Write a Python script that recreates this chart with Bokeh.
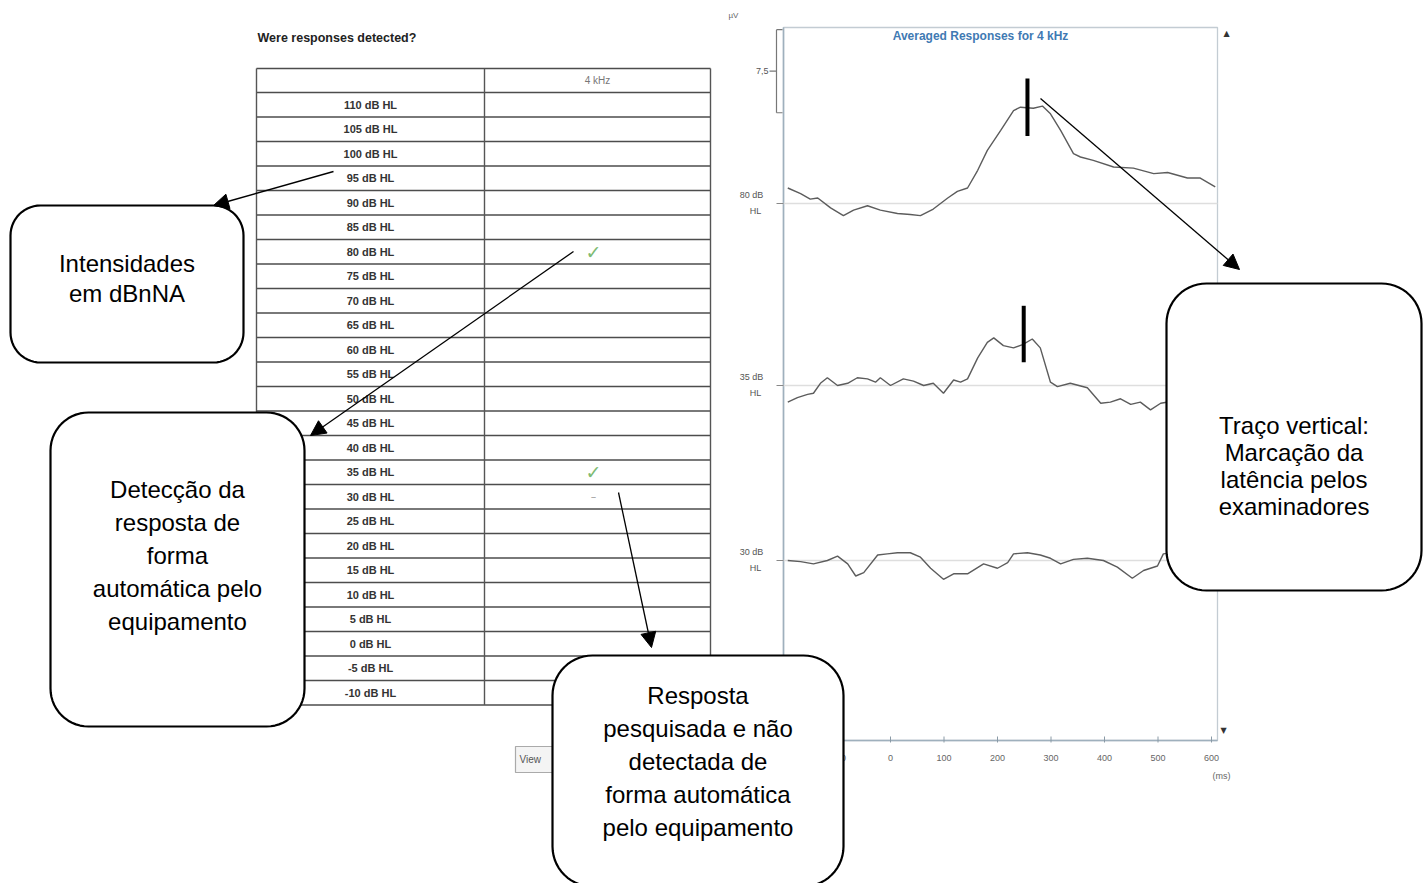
import math
from bokeh.plotting import figure
from bokeh.models import Range1d, Arrow, NormalHead
from bokeh.core.properties import value
from bokeh.embed import file_html
from bokeh.resources import INLINE

W, H = 1427, 883

# ---------------- data ----------------
# "Were responses detected?" table, 4 kHz column
levels_db = [110, 105, 100, 95, 90, 85, 80, 75, 70, 65, 60, 55, 50,
             45, 40, 35, 30, 25, 20, 15, 10, 5, 0, -5, -10]
detected_db = [80, 35]        # automatic detection (check mark)
not_detected_db = [30]        # searched, not detected (dash)

# Averaged responses for 4 kHz: time (ms) and amplitude (uV) per level
trace_levels = ["80", "35", "30"]
ms_80 = [-192, -168, -150, -136, -112, -88, -69, -43, -19, 13, 37, 56, 80, 107,
         125, 144, 163, 181, 206, 230, 243, 267, 284, 299, 318, 342, 355, 379,
         417, 454, 492, 518, 555, 579, 607]
uv_80 = [1.4, 0.9, 0.4, 0.5, -0.4, -1.1, -0.6, -0.2, -0.6, -0.9, -1.0, -1.1, -0.5, 0.5,
         1.1, 1.4, 3.0, 4.8, 6.6, 8.4, 8.7, 8.6, 8.8, 8.1, 6.6, 4.5, 4.2, 3.9,
         3.3, 3.2, 2.7, 2.8, 2.3, 2.3, 1.5]
ms_35 = [-192, -174, -155, -144, -131, -118, -99, -80, -62, -43, -28, -19, 0, 24,
         43, 62, 80, 99, 118, 131, 144, 163, 181, 193, 211, 230, 247, 265, 280,
         299, 312, 336, 368, 393, 411, 430, 449, 467, 486, 505, 530, 560, 607]
uv_35 = [-1.5, -1.1, -0.8, -0.7, 0.2, 0.7, 0.0, 0.2, 0.7, 0.6, 0.3, 0.7, 0.0, 0.6,
         0.4, 0.0, 0.2, -0.7, 0.5, 0.3, 0.6, 2.5, 3.9, 4.3, 3.6, 3.4, 3.7, 4.2, 3.4,
         0.3, -0.1, 0.2, -0.2, -1.6, -1.5, -1.2, -1.7, -1.5, -2.2, -1.6, -1.4, -1.5, -1.3]
ms_30 = [-192, -168, -144, -118, -99, -80, -65, -50, -24, -6, 13, 37, 56, 75, 99,
         118, 144, 174, 200, 219, 230, 256, 280, 299, 318, 342, 368, 398, 424,
         452, 473, 499, 510, 540, 575, 607]
uv_30 = [0.0, -0.1, -0.3, 0.0, 0.4, -0.3, -1.4, -1.1, 0.5, 0.6, 0.7, 0.7, 0.3, -0.7,
         -1.7, -1.2, -1.2, -0.3, -0.7, -0.2, 0.6, 0.7, 0.5, 0.2, -0.3, 0.1, 0.2,
         0.0, -0.6, -1.6, -0.9, -0.5, 0.6, 0.8, 0.4, 0.3]
latency_ms = [256, 249]                 # examiner marks on 80 and 35 dB HL
latency_top_uv = [11.3, 7.2]
latency_bottom_uv = [6.1, 2.1]
time_ticks = [-100, 0, 100, 200, 300, 400, 500, 600]
scale_bar_uv = 7.5

# ---------------- canvas ----------------
p = figure(width=W, height=H, x_range=Range1d(0, W), y_range=Range1d(H, 0),
           output_backend="svg", toolbar_location=None, min_border=0,
           x_axis_type=None, y_axis_type=None)
p.outline_line_color = None
p.background_fill_color = "white"
p.border_fill_color = "white"

SANS = value("Liberation Sans")
DJ = value("DejaVu Sans")

# ---------------- detection table ----------------
T_L, T_M, T_R = 256, 484, 710
T_TOP, HEAD_H, ROW_H = 68, 24, 24.5
n_rows = len(levels_db)
T_BOT = T_TOP + HEAD_H + n_rows * ROW_H

p.text(x=[257], y=[37], text=["Were responses detected?"], text_font=SANS,
       text_font_size="12.5px", text_font_style="bold", text_color="#222222",
       text_baseline="middle")

h_y = [T_TOP] + [T_TOP + HEAD_H + i * ROW_H for i in range(n_rows + 1)]
p.segment(x0=[T_L] * len(h_y), y0=h_y, x1=[T_R] * len(h_y), y1=h_y,
          line_color="#4d4d4d", line_width=1.7)
p.segment(x0=[T_L, T_M, T_R], y0=[T_TOP] * 3, x1=[T_L, T_M, T_R], y1=[T_BOT] * 3,
          line_color="#555555", line_width=1.4)

row_mid = [T_TOP + HEAD_H + (i + 0.5) * ROW_H for i in range(n_rows)]
p.text(x=[(T_L + T_M) / 2] * n_rows, y=row_mid,
       text=[f"{d} dB HL" for d in levels_db], text_font=SANS,
       text_font_size="11px", text_font_style="bold", text_color="#333333",
       text_align="center", text_baseline="middle")
p.text(x=[597], y=[T_TOP + HEAD_H / 2], text=["4 kHz"], text_font=SANS,
       text_font_size="10px", text_color="#777777", text_align="center",
       text_baseline="middle")

CHECK_X = 593
p.text(x=[CHECK_X] * len(detected_db),
       y=[row_mid[levels_db.index(d)] for d in detected_db],
       text=["\u2713"] * len(detected_db), text_font=DJ, text_font_size="19px",
       text_color="#7dbb74", text_align="center", text_baseline="middle")
p.text(x=[CHECK_X] * len(not_detected_db),
       y=[row_mid[levels_db.index(d)] for d in not_detected_db],
       text=["\u2013"] * len(not_detected_db), text_font=DJ, text_font_size="11px",
       text_color="#999999", text_align="center", text_baseline="middle")

# "View" button under the table
p.quad(left=[515], right=[580], top=[746], bottom=[772], fill_color="#f4f4f4",
       line_color="#aaaaaa", line_width=1.2)
p.text(x=[519], y=[759], text=["View"], text_font=SANS, text_font_size="10px",
       text_color="#555555", text_baseline="middle")

# ---------------- averaged responses panel ----------------
PANEL_L, PANEL_R, PANEL_T, PANEL_B = 783, 1217, 27, 740
MS_AT_LEFT, PX_PER_MS = -200, 0.535
BASE_PX, PX_PER_UV = 203, 11.07
trace_base_px = [203, 385, 560]

p.extra_x_ranges = {"ms": Range1d(MS_AT_LEFT - PANEL_L / PX_PER_MS,
                                  MS_AT_LEFT + (W - PANEL_L) / PX_PER_MS)}
p.extra_y_ranges = {"uv": Range1d(-(H - BASE_PX) / PX_PER_UV, BASE_PX / PX_PER_UV)}
ms_right = MS_AT_LEFT + (PANEL_R - PANEL_L) / PX_PER_MS
offsets = [(BASE_PX - b) / PX_PER_UV for b in trace_base_px]

# frame
p.quad(left=[PANEL_L], right=[PANEL_R], top=[PANEL_T], bottom=[PANEL_B],
       fill_color=None, line_color="#c3ccd3", line_width=1.3)
p.segment(x0=[PANEL_L, PANEL_L], y0=[PANEL_T, PANEL_B], x1=[PANEL_L, PANEL_R],
          y1=[PANEL_B, PANEL_B], line_color="#9fb0bd", line_width=1.6)
p.text(x=[980], y=[35], text=["Averaged Responses for 4 kHz"], text_font=SANS,
       text_font_size="12px", text_font_style="bold", text_color="#3f7ab3",
       text_align="center", text_baseline="middle")
p.text(x=[728], y=[15], text=["\u00b5V"], text_font=SANS, text_font_size="8px",
       text_color="#666666", text_baseline="middle")
p.text(x=[1226], y=[33], text=["\u25b2"], text_font=DJ, text_font_size="8px",
       text_color="#333333", text_align="center", text_baseline="middle")
p.text(x=[1223], y=[730], text=["\u25bc"], text_font=DJ, text_font_size="8px",
       text_color="#333333", text_align="center", text_baseline="middle")

# amplitude scale bar
SB_TOP = 15.7
SB_X = 776
p.segment(x0=[SB_X, SB_X, SB_X], y0=[SB_TOP, SB_TOP, SB_TOP - scale_bar_uv],
          x1=[SB_X, SB_X + 6, SB_X + 6],
          y1=[SB_TOP - scale_bar_uv, SB_TOP, SB_TOP - scale_bar_uv],
          y_range_name="uv", line_color="#777777", line_width=1.2)
p.segment(x0=[769], y0=[SB_TOP - scale_bar_uv / 2], x1=[SB_X],
          y1=[SB_TOP - scale_bar_uv / 2], y_range_name="uv",
          line_color="#777777", line_width=1.2)
p.text(x=[768], y=[SB_TOP - scale_bar_uv / 2],
       text=[f"{scale_bar_uv}".replace(".", ",")], y_range_name="uv",
       text_font=SANS, text_font_size="9px", text_color="#555555",
       text_align="right", text_baseline="middle")

# baselines, level labels and traces
traces = [(ms_80, uv_80), (ms_35, uv_35), (ms_30, uv_30)]
for lvl, off, (ms, uv) in zip(trace_levels, offsets, traces):
    p.segment(x0=[MS_AT_LEFT], y0=[off], x1=[ms_right], y1=[off],
              x_range_name="ms", y_range_name="uv",
              line_color="#dedede", line_width=1.5)
    p.segment(x0=[776], y0=[off], x1=[PANEL_L], y1=[off], y_range_name="uv",
              line_color="#888888", line_width=1.0)
    p.text(x=[751, 755], y=[off + 0.75, off - 0.7], text=[f"{lvl} dB", "HL"],
           y_range_name="uv", text_font=SANS, text_font_size="9px",
           text_color="#555555", text_align="center", text_baseline="middle")
    p.line(x=ms, y=[v + off for v in uv], x_range_name="ms", y_range_name="uv",
           line_color="#5c5c5c", line_width=1.4)

# examiner latency marks
p.segment(x0=latency_ms, x1=latency_ms,
          y0=[t + o for t, o in zip(latency_top_uv, offsets)],
          y1=[b + o for b, o in zip(latency_bottom_uv, offsets)],
          x_range_name="ms", y_range_name="uv", line_color="black", line_width=4)

# time axis
p.segment(x0=time_ticks, x1=time_ticks, y0=[PANEL_B - 4] * len(time_ticks),
          y1=[PANEL_B + 2] * len(time_ticks), x_range_name="ms",
          line_color="#8a9aa6", line_width=1.0)
p.text(x=time_ticks, y=[757] * len(time_ticks), text=[str(t) for t in time_ticks],
       x_range_name="ms", text_font=SANS, text_font_size="9px",
       text_color="#666666", text_align="center", text_baseline="middle")
p.text(x=[1221], y=[775], text=["(ms)"], text_font=SANS, text_font_size="9px",
       text_color="#666666", text_align="center", text_baseline="middle")


# ---------------- call-out boxes ----------------
def rounded_outline(x0, y0, x1, y1, r, n=14):
    xs, ys = [], []
    corners = [(x1 - r, y0 + r, -90), (x1 - r, y1 - r, 0),
               (x0 + r, y1 - r, 90), (x0 + r, y0 + r, 180)]
    for cx, cy, a0 in corners:
        for k in range(n + 1):
            a = math.radians(a0 + 90 * k / n)
            xs.append(cx + r * math.cos(a))
            ys.append(cy + r * math.sin(a))
    return xs, ys


def callout(box, r, lines, first_y, step, cx=None):
    x0, y0, x1, y1 = box
    xs, ys = rounded_outline(x0, y0, x1, y1, r)
    p.patch(xs, ys, fill_color="white", line_color="black", line_width=2.2)
    cx = (x0 + x1) / 2 if cx is None else cx
    p.text(x=[cx] * len(lines), y=[first_y + i * step for i in range(len(lines))],
           text=lines, text_font=SANS, text_font_size="24px", text_color="black",
           text_align="center", text_baseline="middle")


callout((10, 205, 243, 362), 30, ["Intensidades", "em dBnNA"], 263, 30)
callout((50, 412, 304, 726), 38,
        ["Detecção da", "resposta de", "forma", "automática pelo", "equipamento"],
        489, 33)
callout((552, 655, 843, 886), 40,
        ["Resposta", "pesquisada e não", "detectada de", "forma automática",
         "pelo equipamento"], 695, 33)
callout((1166, 283, 1421, 590), 40,
        ["Traço vertical:", "Marcação da", "latência pelos", "examinadores"],
        425, 27)

# ---------------- arrows ----------------
arrows = [((333, 171), (213, 205)), ((573, 251), (310, 435)),
          ((618, 492), (651, 647)), ((1040, 98), (1239, 269))]
for (xs_, ys_), (xe, ye) in arrows:
    p.add_layout(Arrow(end=NormalHead(size=15, fill_color="black", line_color="black"),
                       x_start=xs_, y_start=ys_, x_end=xe, y_end=ye,
                       line_color="black", line_width=1.3))

open("out.html", "w").write(file_html(p, INLINE))
